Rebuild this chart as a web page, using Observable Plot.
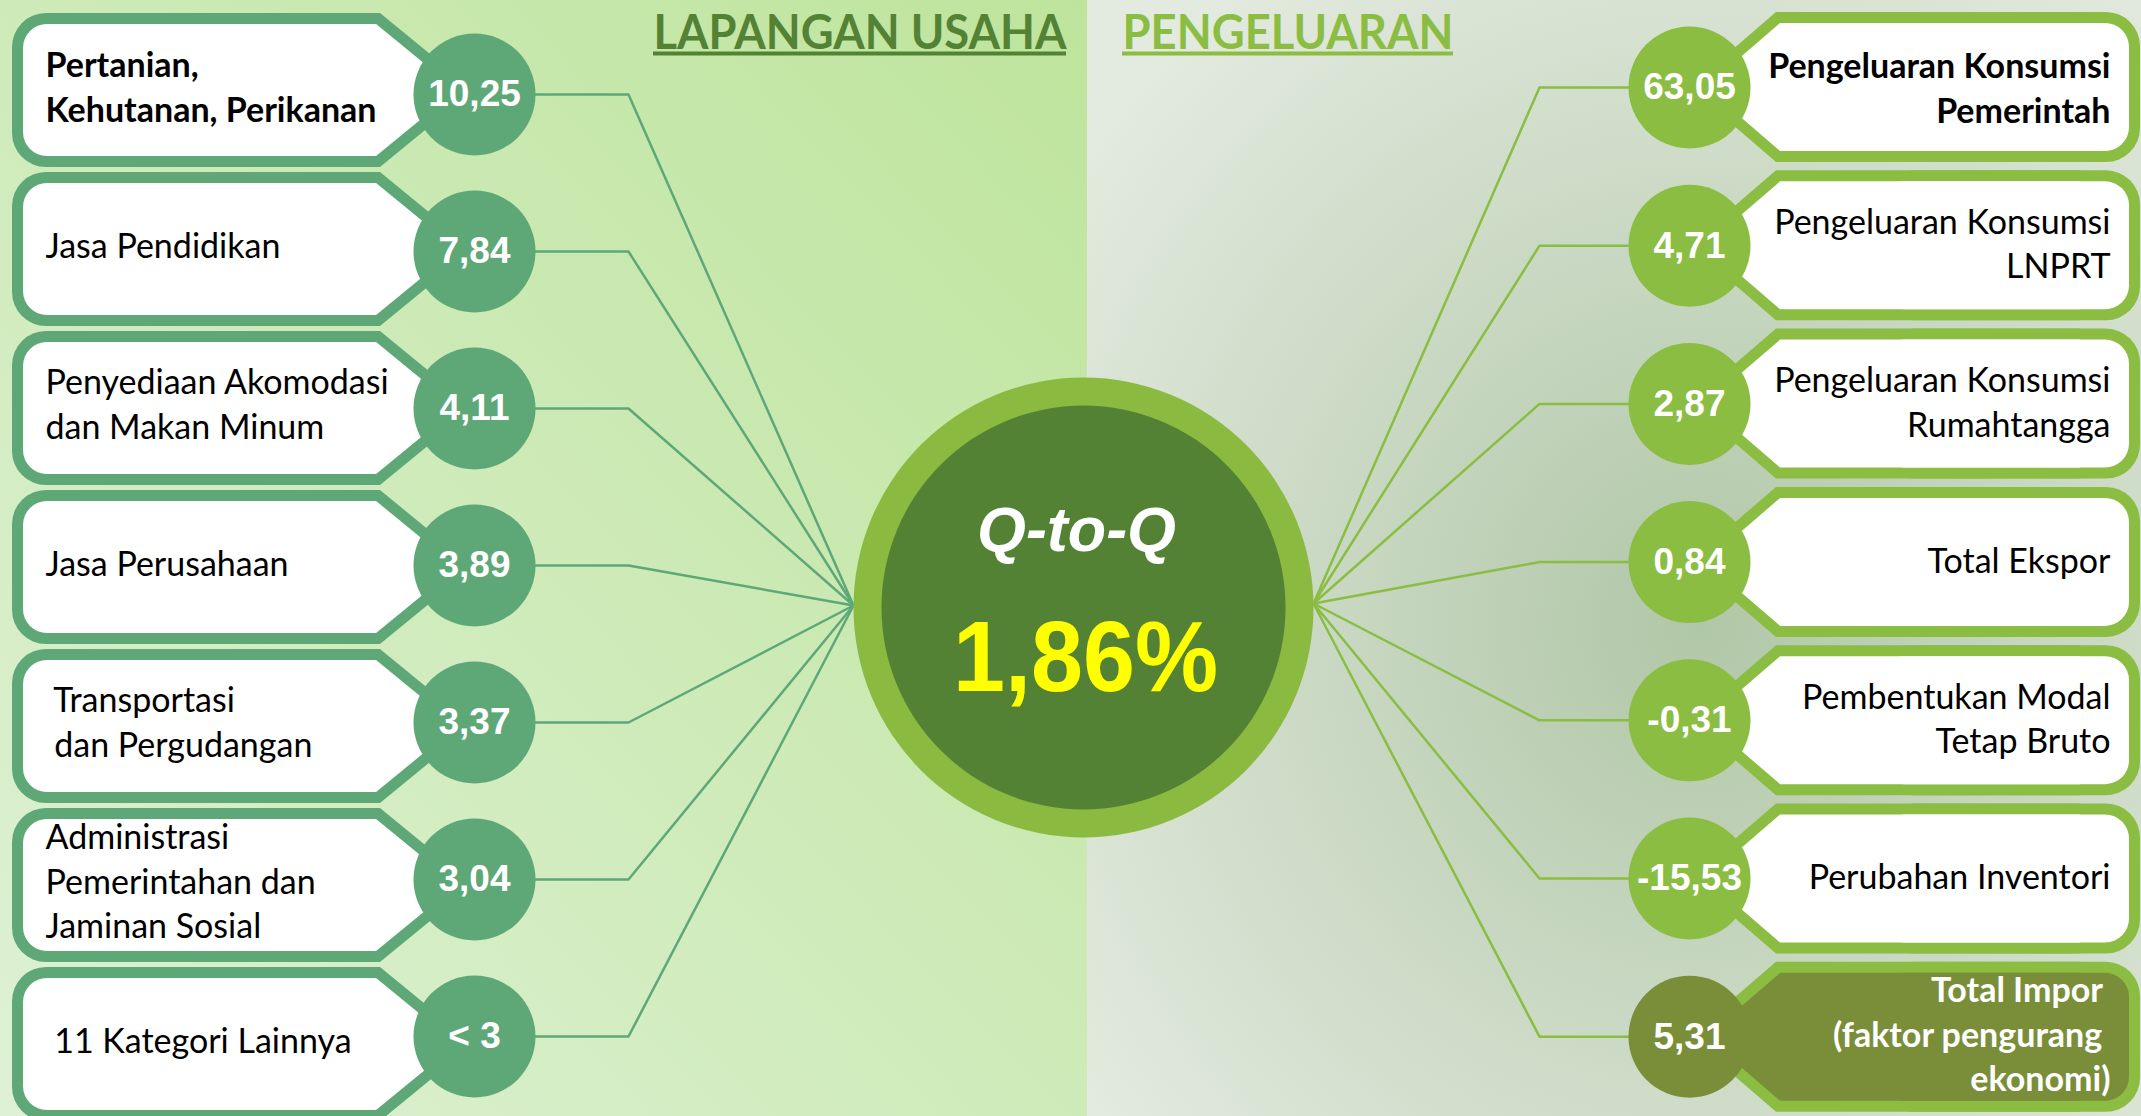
<!DOCTYPE html>
<html>
<head>
<meta charset="utf-8">
<script src="https://cdn.jsdelivr.net/npm/d3@7"></script>
<script src="https://cdn.jsdelivr.net/npm/@observablehq/plot@0.6"></script>
<style>
html, body { margin: 0; padding: 0; overflow: hidden; background: #ffffff; }
#chart svg { display: block; }
</style>
</head>
<body>
<div id="chart"></div>
<script>
// ---------------- DATA ----------------
const headings = ["LAPANGAN USAHA", "PENGELUARAN"];
const centerTitle = "Q-to-Q";
const totalGrowth = 1.86;

const sectorLabels = [
  "Pertanian,\nKehutanan, Perikanan",
  "Jasa Pendidikan",
  "Penyediaan Akomodasi\ndan Makan Minum",
  "Jasa Perusahaan",
  "\u00a0Transportasi\n\u00a0dan Pergudangan",
  "Administrasi\nPemerintahan dan\nJaminan Sosial",
  "\u00a011 Kategori Lainnya"
];
const sectorValues = [10.25, 7.84, 4.11, 3.89, 3.37, 3.04, 3];
const sectorLessThan = [false, false, false, false, false, false, true];

const expenditureLabels = [
  "Pengeluaran Konsumsi\nPemerintah",
  "Pengeluaran Konsumsi\nLNPRT",
  "Pengeluaran Konsumsi\nRumahtangga",
  "Total Ekspor",
  "Pembentukan Modal\nTetap Bruto",
  "Perubahan Inventori",
  "Total Impor\u00a0\n(faktor pengurang\u00a0\nekonomi)"
];
const expenditureValues = [63.05, 4.71, 2.87, 0.84, -0.31, -15.53, 5.31];

// ---------------- LAYOUT / STYLE ----------------
const W = 2141, H = 1116;
const fmt = v => v.toFixed(2).replace(".", ",");
const GREEN_L = "#5ea878", GREEN_R = "#8abd41", OLIVE = "#7a8e3a";
const L = {cx: 474, cy0: 94, pitch: 157, by0: 90, bpitch: 159, half: 77, edge: 12, knee: 94, s: 11, elbow: 628, textX: 45};
const R = {cx: 1689, cy0: 87, pitch: 158.2, by0: 87, bpitch: 158.3, half: 75, edge: 2140, knee: 87, s: 11, elbow: 1539, textX: 2110};
const C = {cx: 1083, cy: 607, r: 230, rIn: 202};
const split = 1087;

const leftRows = sectorLabels.map((label, i) => ({
  i, label,
  value: (sectorLessThan[i] ? "< " + sectorValues[i] : fmt(sectorValues[i])),
  bold: i === 0,
  cy: L.cy0 + L.pitch * i,
  by: L.by0 + L.bpitch * i
}));
const rightRows = expenditureLabels.map((label, i) => ({
  i, label,
  value: fmt(expenditureValues[i]),
  bold: i === 0 || i === 6,
  dark: i === 6,
  cy: R.cy0 + R.pitch * i,
  by: R.by0 + R.bpitch * i
}));

// tag shapes (outer / inner) built from the row index
function tagPoints(rows, S, dir, inner) {
  const pts = [];
  const m = S.half / S.knee;
  const dv = S.s * Math.sqrt(1 + m * m);
  for (const d of rows) {
    const base = S.cx + dir * S.knee;          // end of straight edge
    const far = S.edge - dir * 60;
    if (!inner) {
      pts.push({k: d.i, x: far, y1: d.by - S.half, y2: d.by + S.half});
      pts.push({k: d.i, x: base, y1: d.by - S.half, y2: d.by + S.half});
      pts.push({k: d.i, x: S.cx, y1: d.by, y2: d.by});
    } else {
      const corner = base + dir * (dv - S.s) / m;
      const tip = base - dir * (S.half - dv) / m;
      pts.push({k: d.i, x: far, y1: d.by - S.half + S.s, y2: d.by + S.half - S.s});
      pts.push({k: d.i, x: corner, y1: d.by - S.half + S.s, y2: d.by + S.half - S.s});
      pts.push({k: d.i, x: tip, y1: d.by, y2: d.by});
    }
  }
  return pts;
}

const leftLines = leftRows.flatMap(d => [
  {k: d.i, x: L.cx, y: d.cy}, {k: d.i, x: L.elbow, y: d.cy}, {k: d.i, x: C.cx - C.r, y: C.cy - 2}
]);
const rightLines = rightRows.flatMap(d => [
  {k: d.i, x: R.cx, y: d.cy}, {k: d.i, x: R.elbow, y: d.cy}, {k: d.i, x: C.cx + C.r, y: C.cy - 4}
]);

const headingRows = [
  {text: headings[0], x1: 653, x2: 1066, color: "#548235"},
  {text: headings[1], x1: 1122, x2: 1453, color: GREEN_R}
];

const defs = () => {
  const g = d3.create("svg:defs");
  const lg = g.append("linearGradient").attr("id", "bgL")
    .attr("x1", 1).attr("y1", 0).attr("x2", 0).attr("y2", 1);
  lg.append("stop").attr("offset", 0).attr("stop-color", "#bee49c");
  lg.append("stop").attr("offset", 1).attr("stop-color", "#def1d5");
  const rg = g.append("radialGradient").attr("id", "bgR")
    .attr("cx", 0.58).attr("cy", 0.56).attr("r", 0.72);
  rg.append("stop").attr("offset", 0).attr("stop-color", "#b0c7a7");
  rg.append("stop").attr("offset", 1).attr("stop-color", "#e3eadf");
  return g.node();
};

const labelFont = "Lato, 'Open Sans', sans-serif";
const numFont = "'Liberation Sans', Arial, sans-serif";

const chart = Plot.plot({
  width: W, height: H,
  margin: 0,
  x: {domain: [0, W], range: [0, W], axis: null},
  y: {domain: [0, H], range: [0, H], axis: null},
  style: {background: "transparent"},
  marks: [
    defs,
    // backgrounds
    Plot.rect([0], {x1: () => 0, x2: () => split, y1: () => 0, y2: () => H, fill: "url(#bgL)"}),
    Plot.rect([0], {x1: () => split, x2: () => W, y1: () => 0, y2: () => H, fill: "url(#bgR)"}),

    // headings
    ...headingRows.flatMap(h => [
      Plot.text([h], {x: d => (d.x1 + d.x2) / 2, y: () => 48, text: "text", fill: h.color,
        fontFamily: labelFont, fontWeight: "bold", fontSize: 48, textAnchor: "middle", lineAnchor: "bottom"}),
      Plot.ruleY([h], {y: () => 53, x1: "x1", x2: "x2", stroke: h.color, strokeWidth: 4})
    ]),

    // connector lines
    Plot.line(leftLines, {x: "x", y: "y", z: "k", stroke: GREEN_L, strokeWidth: 2.5, curve: "linear"}),
    Plot.line(rightLines, {x: "x", y: "y", z: "k", stroke: GREEN_R, strokeWidth: 2.5, curve: "linear"}),

    // left tags: outer green, then inner white
    Plot.rect(leftRows, {x1: () => L.edge, x2: () => L.edge + 260, y1: d => d.by - L.half, y2: d => d.by + L.half, rx: 34, fill: GREEN_L}),
    Plot.area(tagPoints(leftRows, L, -1, false), {x1: "x", y1: "y1", y2: "y2", z: "k", fill: GREEN_L}),
    Plot.rect(leftRows, {x1: () => L.edge + L.s, x2: () => L.edge + 260, y1: d => d.by - L.half + L.s, y2: d => d.by + L.half - L.s, rx: 24, fill: "white"}),
    Plot.area(tagPoints(leftRows, L, -1, true), {x1: "x", y1: "y1", y2: "y2", z: "k", fill: "white"}),

    // right tags
    Plot.rect(rightRows, {x1: () => R.edge - 260, x2: () => R.edge, y1: d => d.by - R.half, y2: d => d.by + R.half, rx: 34, fill: GREEN_R}),
    Plot.area(tagPoints(rightRows, R, 1, false), {x1: "x", y1: "y1", y2: "y2", z: "k", fill: GREEN_R}),
    Plot.rect(rightRows.filter(d => !d.dark), {x1: () => R.edge - 260, x2: () => R.edge - R.s, y1: d => d.by - R.half + R.s, y2: d => d.by + R.half - R.s, rx: 24, fill: "white"}),
    Plot.area(tagPoints(rightRows.filter(d => !d.dark), R, 1, true), {x1: "x", y1: "y1", y2: "y2", z: "k", fill: "white"}),
    Plot.rect(rightRows.filter(d => d.dark), {x1: () => R.edge - 260, x2: () => R.edge - R.s, y1: d => d.by - R.half + R.s, y2: d => d.by + R.half - R.s, rx: 24, fill: OLIVE}),
    Plot.area(tagPoints(rightRows.filter(d => d.dark), R, 1, true), {x1: "x", y1: "y1", y2: "y2", z: "k", fill: OLIVE}),

    // value circles
    Plot.dot(leftRows, {x: () => L.cx, y: "cy", r: 61, fill: GREEN_L}),
    Plot.dot(rightRows.filter(d => !d.dark), {x: () => R.cx, y: "cy", r: 61, fill: GREEN_R}),
    Plot.dot(rightRows.filter(d => d.dark), {x: () => R.cx, y: "cy", r: 61, fill: OLIVE}),

    // center circle
    Plot.dot([C], {x: "cx", y: "cy", r: C.r, fill: "#8aba40"}),
    Plot.dot([C], {x: "cx", y: "cy", r: C.rIn, fill: "#548235"}),
    Plot.text([centerTitle], {x: () => C.cx - 7, y: () => 550, text: d => d, fill: "white", fontFamily: numFont,
      fontWeight: "bold", fontStyle: "italic", fontSize: 63, textAnchor: "middle", lineAnchor: "bottom"}),
    Plot.text([totalGrowth], {x: () => C.cx + 2, y: () => 690, text: d => fmt(d) + "%", fill: "#ffff00", fontFamily: numFont,
      fontWeight: "bold", fontSize: 100, textAnchor: "middle", lineAnchor: "bottom"}),

    // value labels
    Plot.text(leftRows, {x: () => L.cx, y: "cy", text: "value", fill: "white", fontFamily: numFont, fontWeight: "bold", fontSize: 37, textAnchor: "middle"}),
    Plot.text(rightRows, {x: () => R.cx, y: "cy", text: "value", fill: "white", fontFamily: numFont, fontWeight: "bold", fontSize: 37, textAnchor: "middle"}),

    // category labels
    Plot.text(leftRows.filter(d => d.bold), {x: () => L.textX, y: d => d.by - 5, text: "label", fill: "black", fontFamily: labelFont, fontWeight: "bold", fontSize: 34, lineHeight: 1.31, textAnchor: "start"}),
    Plot.text(leftRows.filter(d => !d.bold), {x: () => L.textX, y: d => d.by - 6, text: "label", fill: "black", fontFamily: labelFont, fontWeight: "normal", fontSize: 34, lineHeight: 1.31, textAnchor: "start"}),
    Plot.text(rightRows.filter(d => d.bold && !d.dark), {x: () => R.textX, y: d => d.by - 1, text: "label", fill: "black", fontFamily: labelFont, fontWeight: "bold", fontSize: 34, lineHeight: 1.31, textAnchor: "end"}),
    Plot.text(rightRows.filter(d => !d.bold), {x: () => R.textX, y: d => d.by - 4, text: "label", fill: "black", fontFamily: labelFont, fontWeight: "normal", fontSize: 34, lineHeight: 1.31, textAnchor: "end"}),
    Plot.text(rightRows.filter(d => d.dark), {x: () => R.textX, y: d => d.by - 5, text: "label", fill: "white", fontFamily: labelFont, fontWeight: "bold", fontSize: 34, lineHeight: 1.31, textAnchor: "end"})
  ]
});

document.getElementById("chart").appendChild(chart);

// fit condensed display texts to the widths seen in the reference
const fitWidths = new Map([
  [headings[0], 413], [headings[1], 331], [centerTitle, 199], [fmt(totalGrowth) + "%", 265]
]);
d3.select(chart).selectAll("text").each(function () {
  const t = this.textContent;
  if (fitWidths.has(t)) {
    this.setAttribute("textLength", fitWidths.get(t));
    this.setAttribute("lengthAdjust", "spacingAndGlyphs");
  }
});
</script>
</body>
</html>
